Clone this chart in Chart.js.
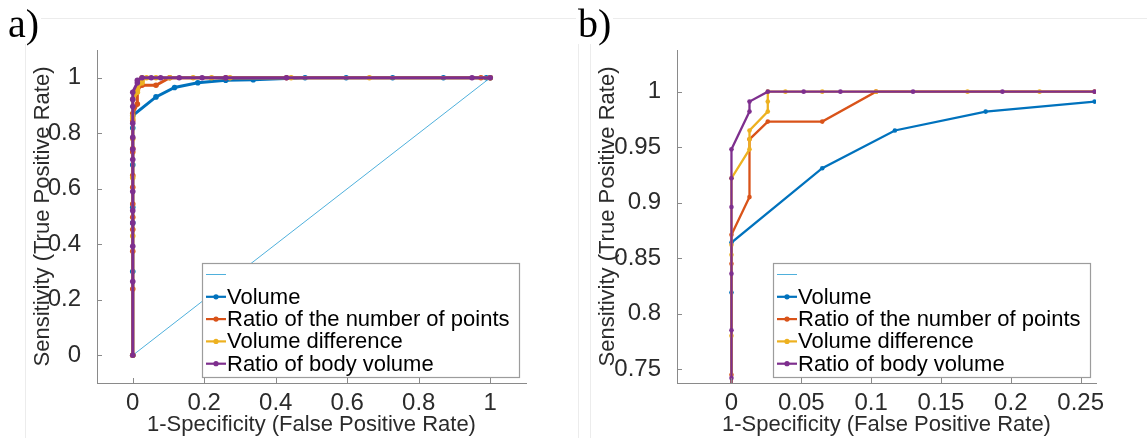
<!DOCTYPE html>
<html>
<head>
<meta charset="utf-8">
<script src="https://cdn.jsdelivr.net/npm/chart.js@4.4.1/dist/chart.umd.min.js"></script>
<style>
html,body{margin:0;padding:0;background:#fff;}
body{width:1147px;height:438px;position:relative;overflow:hidden;}
.wrap{position:absolute;top:0;}
#wa{left:0;width:580px;height:438px;}
#wb{left:580px;width:567px;height:438px;}
.frame{position:absolute;border:1px solid #ececec;}
.lbl{position:absolute;font-family:"Liberation Serif","Times New Roman",serif;font-size:40px;line-height:40px;color:#000;background:#fff;padding:0 2px;}
</style>
</head>
<body>
<div class="frame" style="left:25px;top:18px;width:552px;height:440px;border-bottom:none;"></div>
<div class="frame" style="left:590px;top:18px;width:600px;height:440px;border-bottom:none;border-right:none;"></div>
<div class="wrap" id="wa"><canvas id="ca" width="580" height="438"></canvas></div>
<div class="wrap" id="wb"><canvas id="cb" width="567" height="438"></canvas></div>
<div class="lbl" style="left:6px;top:4px;">a)</div>
<div class="lbl" style="left:576px;top:4px;">b)</div>
<script>
// ---------------- DATA ----------------
const seriesNames = ['', 'Volume', 'Ratio of the number of points', 'Volume difference', 'Ratio of body volume'];

const chanceFPR = [0, 1];
const chanceTPR = [0, 1];

const volumeFPR = [0, 0, 0, 0, 0, 0, 0, 0.065, 0.117, 0.182, 0.26, 0.337, 0.482, 0.597, 0.727, 0.869, 0.989, 1];
const volumeTPR = [0, 0.302, 0.477, 0.533, 0.686, 0.819, 0.864, 0.931, 0.965, 0.982, 0.991, 0.993, 1, 1, 1, 1, 1, 1];

const pointsFPR = [0, 0, 0, 0, 0, 0, 0, 0, 0, 0, 0, 0, 0.0129, 0.0129, 0.026, 0.065, 0.1035, 0.26, 0.43, 0.974, 1];
const pointsTPR = [0, 0.239, 0.375, 0.453, 0.497, 0.545, 0.605, 0.648, 0.732, 0.745, 0.845, 0.871, 0.905, 0.957, 0.973, 0.973, 1, 1, 1, 1, 1];

const diffFPR = [0, 0, 0, 0, 0, 0, 0, 0.0129, 0.0129, 0.0129, 0.026, 0.026, 0.026, 0.0386, 0.065, 0.1035, 0.169, 0.2206, 0.272, 0.443, 0.662, 1];
const diffTPR = [0, 0.43, 0.64, 0.78, 0.853, 0.862, 0.922, 0.948, 0.957, 0.965, 0.982, 0.991, 1, 1, 1, 1, 1, 1, 1, 1, 1, 1];

const bodyFPR = [0, 0, 0, 0, 0, 0, 0, 0, 0, 0, 0, 0, 0, 0.0129, 0.0129, 0.026, 0.0517, 0.078, 0.13, 0.194, 0.26, 0.43, 0.949, 1];
const bodyTPR = [0, 0.266, 0.393, 0.477, 0.521, 0.59, 0.705, 0.742, 0.785, 0.836, 0.896, 0.922, 0.948, 0.982, 0.991, 1, 1, 1, 1, 1, 1, 1, 1, 1];

const xTicksA = [0, 0.2, 0.4, 0.6, 0.8, 1];
const yTicksA = [0, 0.2, 0.4, 0.6, 0.8, 1];
const xTicksB = [0, 0.05, 0.1, 0.15, 0.2, 0.25];
const yTicksB = [0.75, 0.8, 0.85, 0.9, 0.95, 1];

const xTitle = '1-Specificity (False Positive Rate)';
const yTitle = 'Sensitivity (True Positive Rate)';

// ---------------- STYLE ----------------
const FONT = "'Liberation Sans', Arial, Helvetica, sans-serif";
const AXIS_COLOR = '#8a8a8a';
const TEXT_COLOR = '#2b2b2b';
const COLORS = ['#4fb0dc', '#0072BD', '#D95319', '#EDB120', '#7E2F8E'];

function zip(xs, ys) { return xs.map((x, i) => ({x: x, y: ys[i]})); }

function buildDatasets(lw, pr) {
  const pairs = [[chanceFPR, chanceTPR], [volumeFPR, volumeTPR], [pointsFPR, pointsTPR], [diffFPR, diffTPR], [bodyFPR, bodyTPR]];
  return pairs.map((p, i) => ({
    label: seriesNames[i],
    data: zip(p[0], p[1]),
    showLine: true,
    borderColor: COLORS[i],
    backgroundColor: COLORS[i],
    borderWidth: i === 0 ? 1 : lw,
    pointRadius: i === 0 ? 0 : pr,
    pointBorderWidth: 0,
    pointHoverRadius: 0,
    tension: 0,
    order: 5 - i,
    chance: i === 0
  }));
}

const matlabPlugin = {
  id: 'matlab',
  afterDatasetsDraw(chart, args, opts) {
    const ctx = chart.ctx;
    const ca = chart.chartArea;
    const xs = chart.scales.x, ys = chart.scales.y;
    ctx.save();
    // inward tick marks
    ctx.strokeStyle = AXIS_COLOR;
    ctx.lineWidth = 1;
    ctx.beginPath();
    xs.ticks.forEach(t => {
      const px = Math.round(xs.getPixelForValue(t.value)) + 0.5;
      ctx.moveTo(px, ca.bottom); ctx.lineTo(px, ca.bottom - 5);
    });
    ys.ticks.forEach(t => {
      const py = Math.round(ys.getPixelForValue(t.value)) + 0.5;
      ctx.moveTo(ca.left, py); ctx.lineTo(ca.left + 5, py);
    });
    ctx.stroke();
    // legend box
    const L = opts.box;
    ctx.fillStyle = '#ffffff';
    ctx.fillRect(L.x, L.y, L.w, L.h);
    ctx.strokeStyle = '#9c9c9c';
    ctx.lineWidth = 1.2;
    ctx.strokeRect(L.x + 0.5, L.y + 0.5, L.w, L.h);
    ctx.font = '22px ' + FONT;
    ctx.textBaseline = 'middle';
    ctx.textAlign = 'left';
    chart.data.datasets.forEach((ds, i) => {
      const cy = L.y + 11.5 + i * 22.3;
      ctx.strokeStyle = ds.borderColor;
      ctx.lineWidth = ds.chance ? 1 : 2.2;
      ctx.beginPath();
      ctx.moveTo(L.x + 4, cy); ctx.lineTo(L.x + 24, cy);
      ctx.stroke();
      if (!ds.chance) {
        ctx.fillStyle = ds.borderColor;
        ctx.beginPath(); ctx.arc(L.x + 14, cy, 2.6, 0, Math.PI * 2); ctx.fill();
      }
      ctx.fillStyle = '#000';
      ctx.fillText(ds.label, L.x + 25, cy + 1);
    });
    ctx.restore();
  }
};

function makeChart(id, cfg) {
  return new Chart(document.getElementById(id), {
    type: 'scatter',
    data: { datasets: buildDatasets(cfg.lw, cfg.pr) },
    plugins: [matlabPlugin],
    options: {
      responsive: false,
      animation: false,
      events: [],
      layout: { padding: { top: 50, right: cfg.padRight, bottom: 0, left: 0 } },
      plugins: {
        legend: { display: false },
        tooltip: { enabled: false },
        matlab: { box: cfg.box }
      },
      scales: {
        x: {
          type: 'linear', min: cfg.xmin, max: cfg.xmax,
          afterBuildTicks: s => { s.ticks = cfg.xTicks.map(v => ({value: v})); },
          afterFit: s => { s.height = 55; },
          grid: { display: false },
          border: { display: true, color: AXIS_COLOR, width: 1 },
          ticks: { color: TEXT_COLOR, font: { family: FONT, size: 24 }, padding: -2, maxRotation: 0, autoSkip: false, callback: v => String(v) },
          title: { display: true, text: xTitle, color: TEXT_COLOR, font: { family: FONT, size: 22 }, padding: { top: 0, bottom: 0 } }
        },
        y: {
          type: 'linear', min: cfg.ymin, max: cfg.ymax,
          afterBuildTicks: s => { s.ticks = cfg.yTicks.map(v => ({value: v})); },
          afterFit: s => { s.width = 97; },
          grid: { display: false },
          border: { display: true, color: AXIS_COLOR, width: 1 },
          ticks: { color: TEXT_COLOR, font: { family: FONT, size: 24 }, padding: 8, autoSkip: false, callback: v => String(v) },
          title: { display: true, text: yTitle, color: TEXT_COLOR, font: { family: FONT, size: 22 }, padding: { top: cfg.yTitlePad, bottom: 0 } }
        }
      }
    }
  });
}

makeChart('ca', {
  lw: 3, pr: 2.8, padRight: 54,
  xmin: -0.1, xmax: 1.1, ymin: -0.1, ymax: 1.1,
  xTicks: xTicksA, yTicks: yTicksA, yTitlePad: 30,
  box: { x: 202, y: 263, w: 317, h: 114 }
});
makeChart('cb', {
  lw: 2.3, pr: 2.3, padRight: 51,
  xmin: -0.039, xmax: 0.261, ymin: 0.7375, ymax: 1.0375,
  xTicks: xTicksB, yTicks: yTicksB, yTitlePad: 15,
  box: { x: 193, y: 263, w: 317, h: 114 }
});
</script>
</body>
</html>
